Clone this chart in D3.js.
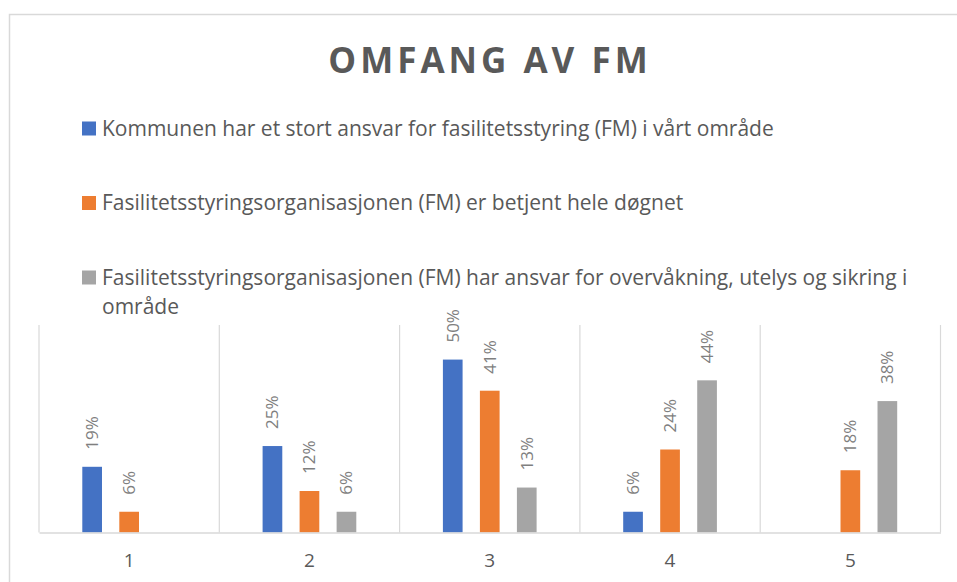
<!DOCTYPE html>
<html>
<head>
<meta charset="utf-8">
<script src="https://cdn.jsdelivr.net/npm/d3@7/dist/d3.min.js"></script>
<style>
  html, body { margin: 0; padding: 0; background: #ffffff; }
  svg { display: block; }
</style>
</head>
<body>
<svg id="chart" width="957" height="582"></svg>
<script>
const title = "OMFANG AV FM";
const categories = ["1", "2", "3", "4", "5"];
const seriesNames = [
  "Kommunen har et stort ansvar for fasilitetsstyring (FM) i vårt område",
  "Fasilitetsstyringsorganisasjonen (FM) er betjent hele døgnet",
  "Fasilitetsstyringsorganisasjonen (FM) har ansvar for overvåkning, utelys og sikring i område"
];
const seriesA = [0.19, 0.25, 0.50, 0.06, null];
const seriesB = [0.06, 0.12, 0.41, 0.24, 0.18];
const seriesC = [null, 0.06, 0.13, 0.44, 0.38];
const colors = ["#4472C4", "#ED7D31", "#A5A5A5"];

const allSeries = [seriesA, seriesB, seriesC];
const svg = d3.select("#chart");
const FONT = "'Open Sans', Lato, sans-serif";

// chart frame
svg.append("rect")
  .attr("x", 9.5).attr("y", 14.5).attr("width", 960).attr("height", 600)
  .attr("fill", "#fff").attr("stroke", "#d9d9d9").attr("stroke-width", 1.5);

// title
svg.append("text")
  .attr("x", 490).attr("y", 73)
  .attr("text-anchor", "middle")
  .attr("font-family", "'Open Sans', sans-serif")
  .attr("font-weight", 700)
  .attr("font-size", 35)
  .attr("letter-spacing", "4px")
  .attr("fill", "#595959")
  .text(title);

// legend
const legendRows = [135.5, 210, 284.5];
const legend = svg.append("g");
seriesNames.forEach((name, i) => {
  legend.append("rect")
    .attr("x", 82).attr("y", legendRows[i] - 14)
    .attr("width", 14).attr("height", 14)
    .attr("fill", colors[i]);
  const t = legend.append("text")
    .attr("x", 102).attr("y", legendRows[i])
    .attr("font-family", FONT).attr("font-size", 21)
    .attr("fill", "#595959");
  const words = name.split(" ");
  const maxW = 830;
  let line = [];
  let tspan = t.append("tspan").attr("x", 102).attr("dy", 0);
  words.forEach(w => {
    line.push(w);
    tspan.text(line.join(" "));
    if (tspan.node().getComputedTextLength() > maxW && line.length > 1) {
      line.pop();
      tspan.text(line.join(" "));
      line = [w];
      tspan = t.append("tspan").attr("x", 102).attr("dy", 29).text(w);
    }
  });
});

// scales
const x0 = d3.scaleBand().domain(categories).range([39, 940.5]).padding(0);
const x1 = d3.scaleBand().domain([0, 1, 2]).range([0, x0.bandwidth()])
  .paddingInner(0.468).paddingOuter(1.17);
const y = d3.scaleLinear().domain([0, 0.6]).range([532.5, 325]);

// vertical gridlines at category boundaries
const bounds = categories.map(c => x0(c)).concat([x0.range()[1]]);
svg.append("g").selectAll("line").data(bounds).join("line")
  .attr("x1", d => d).attr("x2", d => d)
  .attr("y1", y(0.6)).attr("y2", y(0))
  .attr("stroke", "#d9d9d9").attr("stroke-width", 1.2);

// bars
const bars = svg.append("g");
allSeries.forEach((vals, s) => {
  const data = categories.map((c, i) => ({ c, v: vals[i], s })).filter(d => d.v !== null);
  bars.selectAll(null).data(data).join("rect")
    .attr("x", d => x0(d.c) + x1(s))
    .attr("y", d => y(d.v))
    .attr("width", x1.bandwidth())
    .attr("height", d => y(0) - y(d.v))
    .attr("fill", colors[s]);
  bars.selectAll(null).data(data).join("text")
    .attr("transform", d => `translate(${x0(d.c) + x1(s) + x1.bandwidth() / 2},${y(d.v) - 17}) rotate(-90)`)
    .attr("dy", "0.35em")
    .attr("text-anchor", "start")
    .attr("font-family", FONT).attr("font-size", 17)
    .attr("fill", "#7f7f7f")
    .text(d => d3.format(".0%")(d.v));
});

// x axis
const xAxis = d3.axisBottom(x0).tickSize(0).tickPadding(21);
const ax = svg.append("g").attr("transform", `translate(0,${y(0)})`).call(xAxis);
ax.select(".domain").attr("stroke", "#d9d9d9").attr("stroke-width", 1.5);
ax.selectAll("text")
  .attr("font-family", FONT).attr("font-size", 19)
  .attr("fill", "#595959");
</script>
</body>
</html>
